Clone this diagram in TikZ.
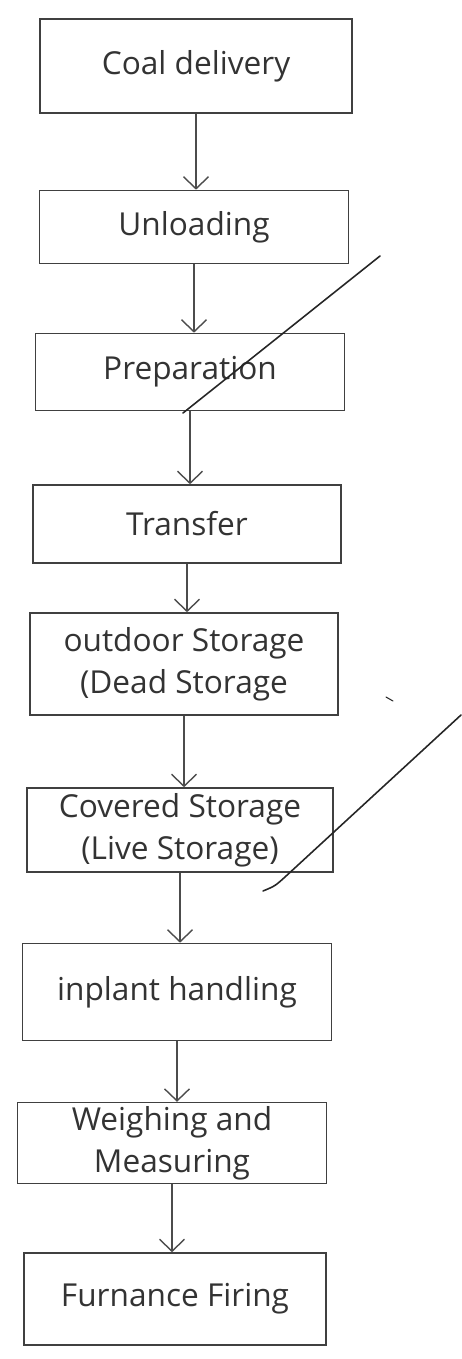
\documentclass[tikz,border=0pt]{standalone}
\usepackage{fontspec}
\setmainfont{Open Sans}
\usetikzlibrary{arrows.meta}

\begin{document}
\begin{tikzpicture}[x=0.02cm,y=-0.02cm,
  stagebox/.style={draw=black!75, line width=0.9pt, text=black!80,
    align=center, inner sep=2pt, font=\fontsize{18}{24}\selectfont},
  flowarrow/.style={draw=black!70, line width=0.8pt,
    -{Straight Barb[length=2.4mm,width=5mm,line width=0.8pt]}},
  pencil/.style={draw=black!85, line width=0.9pt, line cap=round}]
\useasboundingbox (0,0) rectangle (461,1359);
\newcommand{\flowbox}[6]{
  \node[stagebox, minimum width=#4*0.02cm, minimum height=#5*0.02cm] (#1) at (#2,#3) {#6};
}

% the stages, top to bottom
\flowbox{coal}{196}{66}{312}{94}{Coal delivery}
\flowbox{unload}{194}{227}{309}{73}{Unloading}
\flowbox{prep}{190}{372}{309}{77}{Preparation}
\flowbox{transfer}{187}{524}{308}{78}{Transfer}
\flowbox{outdoor}{184}{664}{308}{102}{outdoor Storage\\(Dead Storage}
\flowbox{covered}{180}{830}{306}{84}{Covered Storage\\(Live Storage)}
\flowbox{inplant}{177}{992}{309}{97}{inplant handling}
\flowbox{weigh}{172}{1143}{309}{80}{Weighing and\\Measuring}
\flowbox{furnace}{175}{1299}{302}{92}{Furnance Firing}

% arrows between the stages
\foreach \a/\b in {coal/unload, unload/prep, prep/transfer, transfer/outdoor,
  outdoor/covered, covered/inplant, inplant/weigh, weigh/furnace}
  \draw[flowarrow] (\a.south) -- (\a.south |- \b.north);

% pen strokes across the sheet
\coordinate (strokeAtop) at (380,256);
\coordinate (strokeAend) at (183,413);
\coordinate (strokeBtop) at (461,715);
\coordinate (strokeBmid) at (285,877);
\coordinate (strokeBend) at (263,891);
\draw[pencil] (strokeAtop) -- (strokeAend);
\draw[pencil] (strokeBtop) -- (strokeBmid) .. controls (275,886) .. (strokeBend);
\draw[pencil, line width=0.6pt] (386,697) -- (393,701);
\end{tikzpicture}
\end{document}
